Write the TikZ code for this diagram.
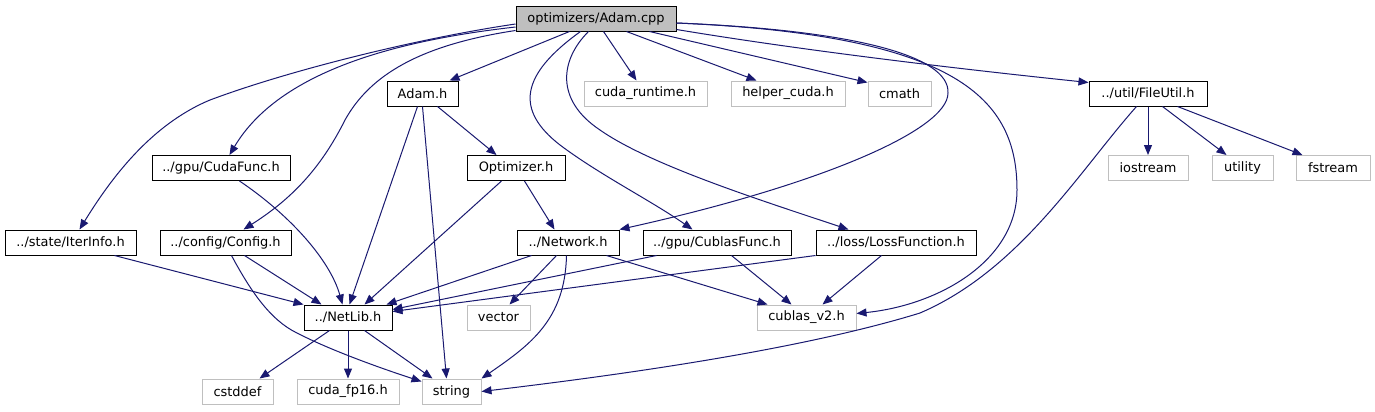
\documentclass[tikz,border=0pt]{standalone}
\usepackage{fontspec}
\setmainfont{DejaVu Sans}
\usetikzlibrary{calc,arrows.meta}
\definecolor{edgec}{HTML}{191970}
\definecolor{greyfill}{HTML}{BFBFBF}
\definecolor{greyline}{HTML}{BFBFBF}
\begin{document}
\begin{tikzpicture}[x=0.75pt,y=-0.75pt,
  font=\fontsize{9.7}{11}\selectfont,
  box/.style={rectangle, draw=black, line width=0.75pt, fill=white, inner sep=0pt, minimum height=18.75pt, text=black},
  ext/.style={box, draw=greyline},
  root/.style={box, fill=greyfill},
  dep/.style={draw=edgec, line width=0.75pt, -{Triangle[length=7.5pt,width=6pt]}, edgec}]
\useasboundingbox[fill=white] (0,0) rectangle (1375,411);
% nodes
\node[root, minimum width=120pt]   (cpp)      at (596,18.5)   {optimizers/Adam.cpp};
\node[box,  minimum width=53.25pt] (adamh)    at (422.5,93.5) {Adam.h};
\node[ext,  minimum width=92.25pt] (cudart)   at (645.5,93.5) {cuda\_runtime.h};
\node[ext,  minimum width=85.5pt]  (helper)   at (788,93.5)   {helper\_cuda.h};
\node[ext,  minimum width=47.25pt] (cmath)    at (899.5,93.5) {cmath};
\node[box,  minimum width=88.5pt]  (fileutil) at (1148,93.5)  {../util/FileUtil.h};
\node[box,  minimum width=103.5pt] (cudafunc) at (221,168)    {../gpu/CudaFunc.h};
\node[box,  minimum width=73.5pt]  (optim)    at (516,168)    {Optimizer.h};
\node[ext,  minimum width=60pt]    (iostream) at (1148,168)   {iostream};
\node[ext,  minimum width=45.75pt] (utility)  at (1242.5,168) {utility};
\node[ext,  minimum width=55.5pt]  (fstream)  at (1333,168)   {fstream};
\node[box,  minimum width=98.25pt] (iterinfo) at (70.5,242.5) {../state/IterInfo.h};
\node[box,  minimum width=98.25pt] (config)   at (225.5,242.5){../config/Config.h};
\node[box,  minimum width=76.5pt]  (network)  at (568,242.5)  {../Network.h};
\node[box,  minimum width=111pt]   (cublasf)  at (717,242.5)  {../gpu/CublasFunc.h};
\node[box,  minimum width=120pt]   (lossf)    at (896,242.5)  {../loss/LossFunction.h};
\node[box,  minimum width=66pt]    (netlib)   at (348,317.5)  {../NetLib.h};
\node[ext,  minimum width=47.25pt] (vector)   at (498.5,317.5){vector};
\node[ext,  minimum width=74.25pt] (cublasv)  at (806.5,317.5){cublas\_v2.h};
\node[ext,  minimum width=53.25pt] (cstddef)  at (237.5,391.5){cstddef};
\node[ext,  minimum width=76.5pt]  (fp16)     at (348,391.5)  {cuda\_fp16.h};
\node[ext,  minimum width=44.25pt] (string)   at (451.5,391.5){string};
% edges from Adam.cpp
\draw[dep] ($(cpp.south west)+(54,0)$) -- ($(adamh.north west)+(63,0)$);
\draw[dep] ($(cpp.south west)+(88,0)$) -- ($(cudart.north west)+(53,0)$);
\draw[dep] ($(cpp.south west)+(111,0)$) -- ($(helper.north west)+(26,0)$);
\draw[dep] ($(cpp.south west)+(134,0)$) -- ($(cmath.north west)+(0,2)$);
\draw[dep] ($(cpp.south east)+(0,-2)$) .. controls (800,50) and (950,68) .. ($(fileutil.north west)+(0,2)$);
\draw[dep] ($(cpp.east)+(0,4.5)$) .. controls (850,30) and (950,55) .. (948,93)
           .. controls (948,130) and (820,185) .. (network.north east);
\draw[dep] ($(cpp.east)+(0,4.5)$) .. controls (960,35) and (1017,100) .. (1017,190)
           .. controls (1017,260) and (940,305) .. ($(cublasv.east)+(0,-4)$);
\draw[dep] ($(cpp.south west)+(65,0)$) .. controls (520,75) and (515,110) .. (560,145)
           .. controls (600,175) and (650,200) .. ($(cublasf.north west)+(50,0)$);
\draw[dep] ($(cpp.south west)+(73,0)$) .. controls (560,60) and (555,100) .. (600,130)
           .. controls (650,165) and (760,200) .. ($(lossf.north west)+(33,0)$);
\draw[dep] ($(cpp.west)+(0,8.5)$) .. controls (400,40) and (280,70) .. ($(cudafunc.north west)+(78,0)$);
\draw[dep] ($(cpp.west)+(0,5.5)$) .. controls (420,38) and (290,70) .. (210,100)
           .. controls (150,125) and (110,180) .. ($(iterinfo.north west)+(75,0)$);
\draw[dep] ($(cpp.south west)+(0,-1)$) .. controls (420,45) and (370,75) .. (345,120)
           .. controls (320,170) and (290,200) .. ($(config.north west)+(84,0)$);
% Adam.h
\draw[dep] ($(adamh.south west)+(51,0)$) -- ($(optim.north west)+(30,0)$);
\draw[dep] ($(adamh.south west)+(31,0)$) -- ($(netlib.north west)+(46,0)$);
\draw[dep] ($(adamh.south west)+(36,0)$) -- ($(string.north west)+(25,0)$);
% CudaFunc, Config, IterInfo
\draw[dep] ($(cudafunc.south west)+(88,0)$) .. controls (290,215) and (330,260) .. ($(netlib.north west)+(39,0)$);
\draw[dep] ($(config.south west)+(85,0)$) -- ($(netlib.north west)+(18,0)$);
\draw[dep] ($(config.south west)+(72,0)$) .. controls (250,290) and (270,320) .. (297,333)
           .. controls (330,350) and (380,368) .. ($(string.north west)+(0,3)$);
\draw[dep] ($(iterinfo.south west)+(110,0)$) -- (netlib.north west);
% Optimizer
\draw[dep] ($(optim.south west)+(35,0)$) -- ($(netlib.north west)+(61,0)$);
\draw[dep] ($(optim.south west)+(58,0)$) -- ($(network.north west)+(38,0)$);
% Network
\draw[dep] ($(network.south west)+(15,0)$) -- ($(netlib.north east)+(-6,0)$);
\draw[dep] ($(network.south west)+(40,0)$) -- ($(vector.north west)+(43,0)$);
\draw[dep] ($(network.south west)+(50,0)$) .. controls (565,320) and (530,345) .. (string.north east);
\draw[dep] ($(network.south west)+(90,0)$) -- ($(cublasv.north west)+(11,0)$);
% CublasFunc, LossFunction
\draw[dep] ($(cublasf.south west)+(14,0)$) -- ($(netlib.east)+(0,-8)$);
\draw[dep] ($(cublasf.south west)+(89,0)$) -- ($(cublasv.north west)+(35,0)$);
\draw[dep] (lossf.south west) -- ($(netlib.east)+(0,-6)$);
\draw[dep] ($(lossf.south west)+(66,0)$) -- ($(cublasv.north west)+(66,0)$);
% FileUtil
\draw[dep] (fileutil.south) -- (iostream.north);
\draw[dep] ($(fileutil.south west)+(74,0)$) -- ($(utility.north west)+(15,0)$);
\draw[dep] ($(fileutil.south west)+(89,0)$) -- ($(fstream.north west)+(7,0)$);
\draw[dep] ($(fileutil.south west)+(48,0)$) .. controls (1080,170) and (1020,270) .. (920,313)
           .. controls (800,350) and (620,375) .. (string.east);
% NetLib
\draw[dep] ($(netlib.south west)+(26,0)$) -- ($(cstddef.north west)+(58,0)$);
\draw[dep] (netlib.south) -- (fp16.north);
\draw[dep] ($(netlib.south west)+(61,0)$) -- ($(string.north west)+(11,0)$);
\end{tikzpicture}
\end{document}
